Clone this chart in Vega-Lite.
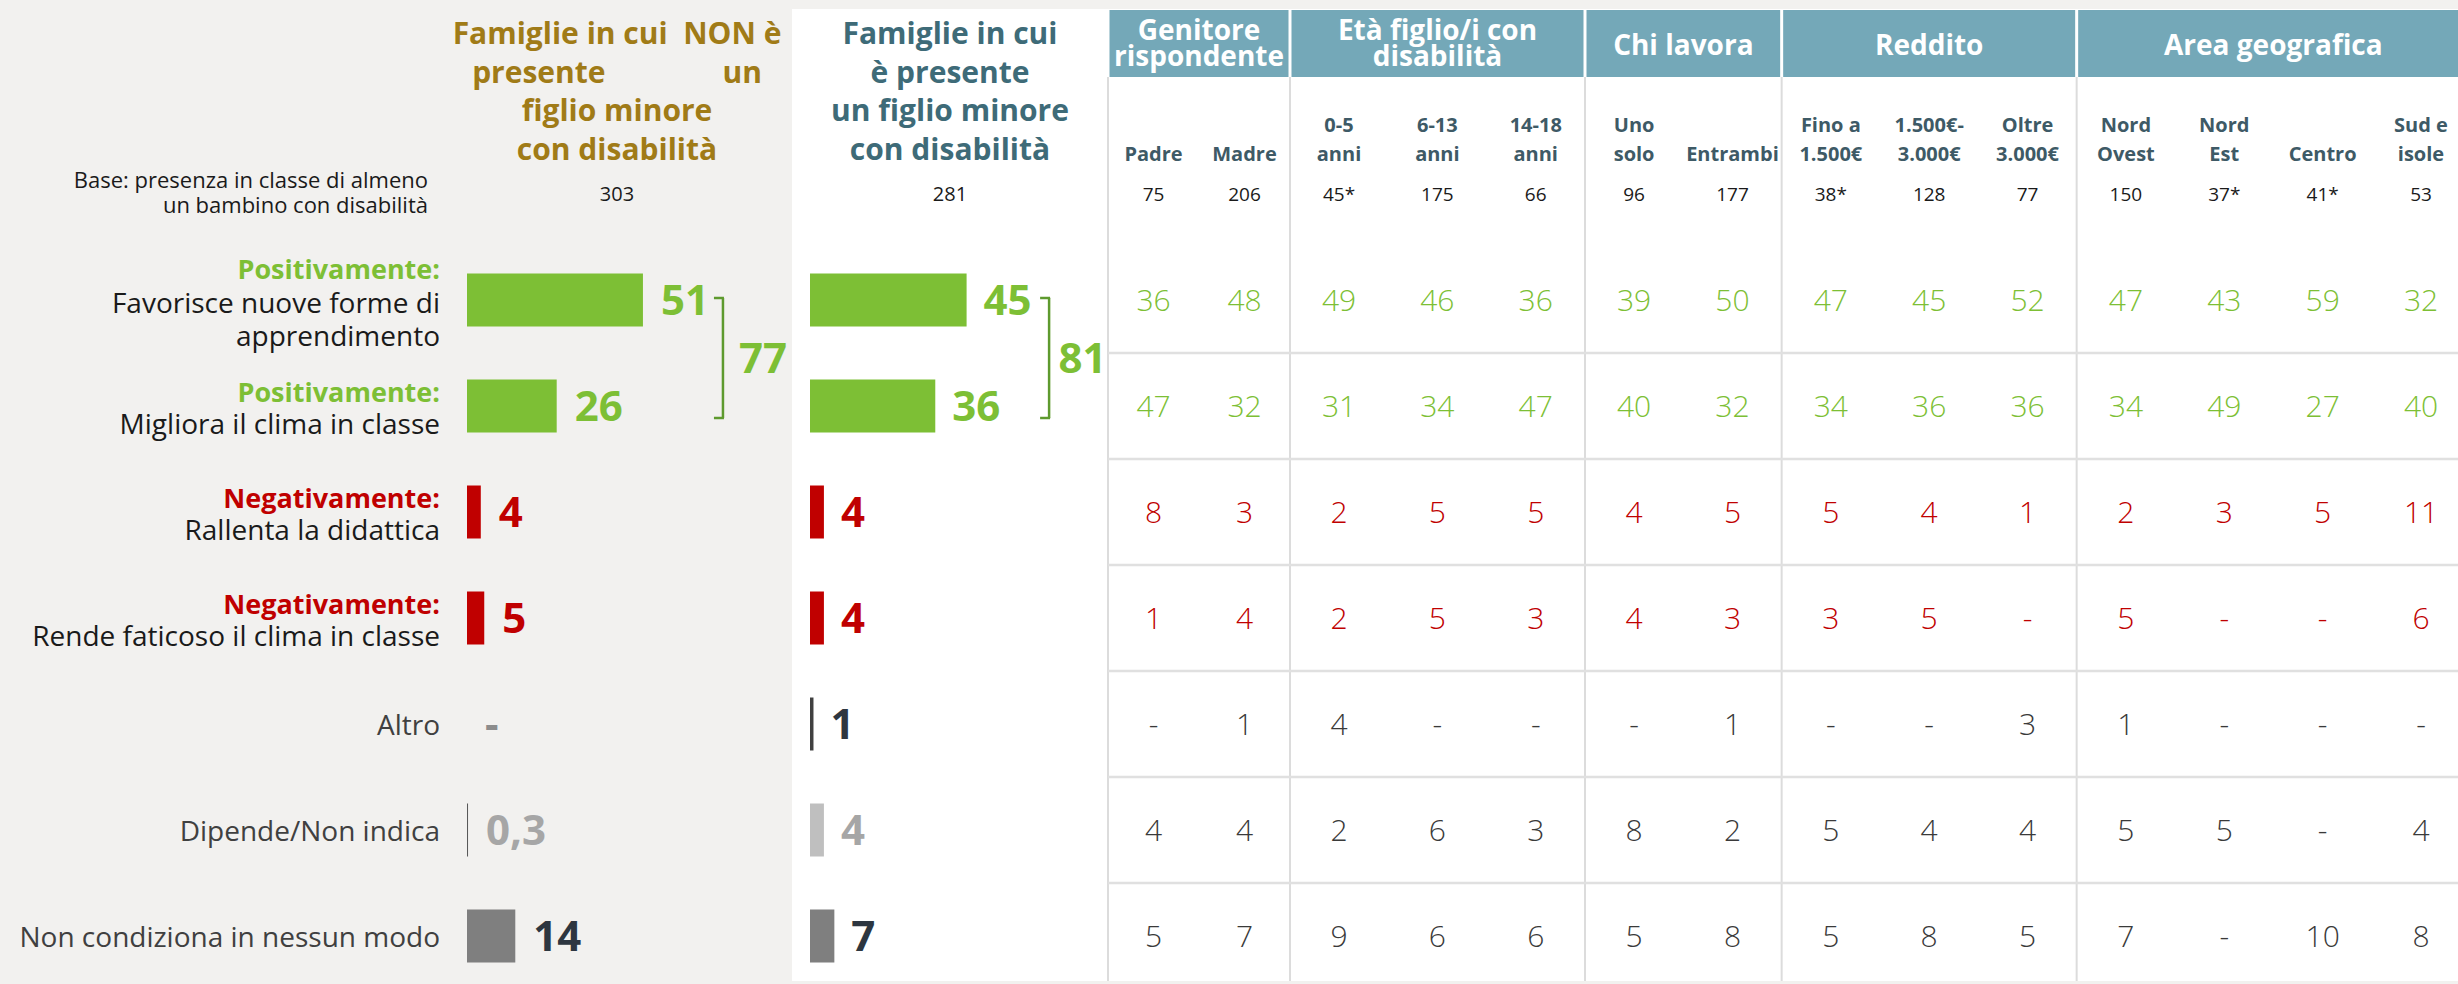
{
  "$schema": "https://vega.github.io/schema/vega-lite/v6.json",
  "width": 2458,
  "height": 984,
  "autosize": "none",
  "padding": 0,
  "background": "#f2f1ef",
  "config": {"view": {"stroke": null}, "text": {"font": "Open Sans"}},
  "datasets": {
    "rows": [
      {"r": "Favorisce", "pre": "Positivamente:", "txt": "Favorisce nuove forme di\napprendimento"},
      {"r": "Migliora", "pre": "Positivamente:", "txt": "Migliora il clima in classe"},
      {"r": "Rallenta", "pre": "Negativamente:", "txt": "Rallenta la didattica"},
      {"r": "Rende", "pre": "Negativamente:", "txt": "Rende faticoso il clima in classe"},
      {"r": "Altro", "pre": "", "txt": "Altro"},
      {"r": "Dipende", "pre": "", "txt": "Dipende/Non indica"},
      {"r": "Non condiziona", "pre": "", "txt": "Non condiziona in nessun modo"}
    ],
    "bars": [
      {"r": "Favorisce", "g": "NON", "v": 51, "t": "51"},
      {"r": "Migliora", "g": "NON", "v": 26, "t": "26"},
      {"r": "Rallenta", "g": "NON", "v": 4, "t": "4"},
      {"r": "Rende", "g": "NON", "v": 5, "t": "5"},
      {"r": "Altro", "g": "NON", "v": 0, "t": "-"},
      {"r": "Dipende", "g": "NON", "v": 0.3, "t": "0,3"},
      {"r": "Non condiziona", "g": "NON", "v": 14, "t": "14"},
      {"r": "Favorisce", "g": "CON", "v": 45, "t": "45"},
      {"r": "Migliora", "g": "CON", "v": 36, "t": "36"},
      {"r": "Rallenta", "g": "CON", "v": 4, "t": "4"},
      {"r": "Rende", "g": "CON", "v": 4, "t": "4"},
      {"r": "Altro", "g": "CON", "v": 1, "t": "1"},
      {"r": "Dipende", "g": "CON", "v": 4, "t": "4"},
      {"r": "Non condiziona", "g": "CON", "v": 7, "t": "7"}
    ],
    "brk": [
      {"g": "NON", "top": "Favorisce", "bot": "Migliora", "ref": 51, "tot": "77"},
      {"g": "CON", "top": "Favorisce", "bot": "Migliora", "ref": 45, "tot": "81"}
    ],
    "titles": [
      {"p": "NON", "t": "Famiglie in cui\u00a0\u00a0NON è\npresente\u00a0\u00a0\u00a0\u00a0\u00a0\u00a0\u00a0\u00a0\u00a0\u00a0\u00a0\u00a0\u00a0\u00a0\u00a0un\nfiglio minore\ncon disabilità", "n": "303"},
      {"p": "CON", "t": "Famiglie in cui\nè presente\nun figlio minore\ncon disabilità", "n": "281"}
    ],
    "groups": [
      {"grp": "Genitore\nrispondente", "lo": 0, "hi": 2},
      {"grp": "Età figlio/i con\ndisabilità", "lo": 2, "hi": 5},
      {"grp": "Chi lavora", "lo": 5, "hi": 7},
      {"grp": "Reddito", "lo": 7, "hi": 10},
      {"grp": "Area geografica", "lo": 10, "hi": 14}
    ],
    "cols": [
      {"k": "padre", "ci": 0, "lab": "Padre", "n": "75"},
      {"k": "madre", "ci": 1, "lab": "Madre", "n": "206"},
      {"k": "a05", "ci": 2, "lab": "0-5\nanni", "n": "45*"},
      {"k": "a613", "ci": 3, "lab": "6-13\nanni", "n": "175"},
      {"k": "a1418", "ci": 4, "lab": "14-18\nanni", "n": "66"},
      {"k": "uno", "ci": 5, "lab": "Uno\nsolo", "n": "96"},
      {"k": "entr", "ci": 6, "lab": "Entrambi", "n": "177"},
      {"k": "r1", "ci": 7, "lab": "Fino a\n1.500€", "n": "38*"},
      {"k": "r2", "ci": 8, "lab": "1.500€-\n3.000€", "n": "128"},
      {"k": "r3", "ci": 9, "lab": "Oltre\n3.000€", "n": "77"},
      {"k": "no", "ci": 10, "lab": "Nord\nOvest", "n": "150"},
      {"k": "ne", "ci": 11, "lab": "Nord\nEst", "n": "37*"},
      {"k": "ce", "ci": 12, "lab": "Centro", "n": "41*"},
      {"k": "sud", "ci": 13, "lab": "Sud e\nisole", "n": "53"}
    ],
    "tab": [
      {"r": "Favorisce", "padre": "36", "madre": "48", "a05": "49", "a613": "46", "a1418": "36", "uno": "39", "entr": "50", "r1": "47", "r2": "45", "r3": "52", "no": "47", "ne": "43", "ce": "59", "sud": "32"},
      {"r": "Migliora", "padre": "47", "madre": "32", "a05": "31", "a613": "34", "a1418": "47", "uno": "40", "entr": "32", "r1": "34", "r2": "36", "r3": "36", "no": "34", "ne": "49", "ce": "27", "sud": "40"},
      {"r": "Rallenta", "padre": "8", "madre": "3", "a05": "2", "a613": "5", "a1418": "5", "uno": "4", "entr": "5", "r1": "5", "r2": "4", "r3": "1", "no": "2", "ne": "3", "ce": "5", "sud": "11"},
      {"r": "Rende", "padre": "1", "madre": "4", "a05": "2", "a613": "5", "a1418": "3", "uno": "4", "entr": "3", "r1": "3", "r2": "5", "r3": "-", "no": "5", "ne": "-", "ce": "-", "sud": "6"},
      {"r": "Altro", "padre": "-", "madre": "1", "a05": "4", "a613": "-", "a1418": "-", "uno": "-", "entr": "1", "r1": "-", "r2": "-", "r3": "3", "no": "1", "ne": "-", "ce": "-", "sud": "-"},
      {"r": "Dipende", "padre": "4", "madre": "4", "a05": "2", "a613": "6", "a1418": "3", "uno": "8", "entr": "2", "r1": "5", "r2": "4", "r3": "4", "no": "5", "ne": "5", "ce": "-", "sud": "4"},
      {"r": "Non condiziona", "padre": "5", "madre": "7", "a05": "9", "a613": "6", "a1418": "6", "uno": "5", "entr": "8", "r1": "5", "r2": "8", "r3": "5", "no": "7", "ne": "-", "ce": "10", "sud": "8"}
    ]
  },
  "resolve": {"scale": {"x": "independent", "y": "independent", "color": "independent"}},
  "layer": [
    {
      "data": {"values": [{}]},
      "mark": {"type": "rect", "fill": "#ffffff"},
      "encoding": {
        "x": {"datum": 0, "type": "quantitative", "scale": {"domain": [0, 1], "range": [792, 2458], "nice": false, "zero": false}, "axis": null},
        "x2": {"datum": 1},
        "y": {"datum": 0, "type": "quantitative", "scale": {"domain": [0, 1, 2], "range": [9, 77, 981], "nice": false, "zero": false}, "axis": null},
        "y2": {"datum": 2}
      }
    },
    {
      "data": {"name": "groups"},
      "mark": {"type": "rect", "fill": "#74a8b8", "xOffset": 1.5, "x2Offset": -1.5},
      "encoding": {
        "x": {"field": "lo", "type": "quantitative", "scale": {"domain": [0, 2, 14], "range": [1108, 1290, 2470], "nice": false, "zero": false}, "axis": null},
        "x2": {"field": "hi"},
        "y": {"datum": 0, "type": "quantitative", "scale": {"domain": [0, 1, 2], "range": [10, 77, 981], "nice": false, "zero": false}, "axis": null},
        "y2": {"datum": 1}
      }
    },
    {
      "data": {"name": "groups"},
      "mark": {"type": "rule", "stroke": "#dcdcdc", "strokeWidth": 2},
      "encoding": {
        "x": {"field": "lo", "type": "quantitative", "scale": {"domain": [0, 2, 14], "range": [1108, 1290, 2470], "nice": false, "zero": false}, "axis": null},
        "y": {"datum": 1, "type": "quantitative", "scale": {"domain": [0, 1, 2], "range": [10, 77, 981], "nice": false, "zero": false}, "axis": null},
        "y2": {"datum": 2}
      }
    },
    {
      "data": {"name": "rows"},
      "mark": {"type": "rule", "stroke": "#e0e0e0", "strokeWidth": 2.5},
      "encoding": {
        "y": {"field": "r", "type": "nominal", "scale": {"type": "point", "domain": ["Favorisce", "Migliora", "Rallenta", "Rende", "Altro", "Dipende", "Non condiziona"], "range": [353, 989], "padding": 0}, "axis": null},
        "x": {"datum": 0, "type": "quantitative", "scale": {"domain": [0, 2, 14], "range": [1108, 1290, 2470], "nice": false, "zero": false}, "axis": null},
        "x2": {"datum": 14}
      }
    },
    {
      "data": {"name": "groups"},
      "transform": [
        {"fold": ["lo", "hi"], "as": ["side", "e"]},
        {"aggregate": [{"op": "mean", "field": "e", "as": "m"}], "groupby": ["grp"]},
        {"filter": "indexof(datum.grp, '\\n') >= 0"}
      ],
      "mark": {"type": "text", "color": "#ffffff", "fontWeight": "bold", "fontSize": 28, "lineBreak": "\n", "lineHeight": 26, "baseline": "middle", "align": "center"},
      "encoding": {
        "x": {"field": "m", "type": "quantitative", "scale": {"domain": [0, 2, 14], "range": [1108, 1290, 2470], "nice": false, "zero": false}, "axis": null},
        "y": {"datum": 0, "type": "quantitative", "scale": {"domain": [0, 1, 2, 3, 4, 5, 6], "range": [32, 35, 47, 132, 161, 181, 195], "nice": false, "zero": false}, "axis": null},
        "text": {"field": "grp"}
      }
    },
    {
      "data": {"name": "groups"},
      "transform": [
        {"fold": ["lo", "hi"], "as": ["side", "e"]},
        {"aggregate": [{"op": "mean", "field": "e", "as": "m"}], "groupby": ["grp"]},
        {"filter": "indexof(datum.grp, '\\n') < 0"}
      ],
      "mark": {"type": "text", "color": "#ffffff", "fontWeight": "bold", "fontSize": 28, "baseline": "middle", "align": "center"},
      "encoding": {
        "x": {"field": "m", "type": "quantitative", "scale": {"domain": [0, 2, 14], "range": [1108, 1290, 2470], "nice": false, "zero": false}, "axis": null},
        "y": {"datum": 2, "type": "quantitative", "scale": {"domain": [0, 1, 2, 3, 4, 5, 6], "range": [32, 35, 47, 132, 161, 181, 195], "nice": false, "zero": false}, "axis": null},
        "text": {"field": "grp"}
      }
    },
    {
      "data": {"name": "cols"},
      "transform": [{"filter": "indexof(datum.lab, '\\n') >= 0"}],
      "mark": {"type": "text", "color": "#3e5a66", "fontWeight": "bold", "fontSize": 20, "lineBreak": "\n", "lineHeight": 29, "baseline": "alphabetic", "align": "center"},
      "encoding": {
        "x": {"field": "ci", "type": "quantitative", "scale": {"domain": [0, 1, 2, 13], "range": [1153.5, 1244.5, 1339, 2421], "nice": false, "zero": false}, "axis": null},
        "y": {"datum": 3, "type": "quantitative", "scale": {"domain": [0, 1, 2, 3, 4, 5, 6], "range": [32, 35, 47, 132, 161, 181, 195], "nice": false, "zero": false}, "axis": null},
        "text": {"field": "lab"}
      }
    },
    {
      "data": {"name": "cols"},
      "transform": [{"filter": "indexof(datum.lab, '\\n') < 0"}],
      "mark": {"type": "text", "color": "#3e5a66", "fontWeight": "bold", "fontSize": 20, "baseline": "alphabetic", "align": "center"},
      "encoding": {
        "x": {"field": "ci", "type": "quantitative", "scale": {"domain": [0, 1, 2, 13], "range": [1153.5, 1244.5, 1339, 2421], "nice": false, "zero": false}, "axis": null},
        "y": {"datum": 4, "type": "quantitative", "scale": {"domain": [0, 1, 2, 3, 4, 5, 6], "range": [32, 35, 47, 132, 161, 181, 195], "nice": false, "zero": false}, "axis": null},
        "text": {"field": "lab"}
      }
    },
    {
      "data": {"name": "cols"},
      "mark": {"type": "text", "color": "#1a1a1a", "fontSize": 19, "baseline": "middle", "align": "center"},
      "encoding": {
        "x": {"field": "ci", "type": "quantitative", "scale": {"domain": [0, 1, 2, 13], "range": [1153.5, 1244.5, 1339, 2421], "nice": false, "zero": false}, "axis": null},
        "y": {"datum": 6, "type": "quantitative", "scale": {"domain": [0, 1, 2, 3, 4, 5, 6], "range": [32, 35, 47, 132, 161, 181, 195], "nice": false, "zero": false}, "axis": null},
        "text": {"field": "n"}
      }
    },
    {
      "data": {"name": "tab"},
      "transform": [
        {"fold": ["padre", "madre", "a05", "a613", "a1418", "uno", "entr", "r1", "r2", "r3", "no", "ne", "ce", "sud"], "as": ["k", "v"]},
        {"lookup": "k", "from": {"data": {"name": "cols"}, "key": "k", "fields": ["ci"]}}
      ],
      "mark": {"type": "text", "fontSize": 30, "fontWeight": 300, "baseline": "middle", "align": "center", "dy": 2},
      "encoding": {
        "x": {"field": "ci", "type": "quantitative", "scale": {"domain": [0, 1, 2, 13], "range": [1153.5, 1244.5, 1339, 2421], "nice": false, "zero": false}, "axis": null},
        "y": {"field": "r", "type": "nominal", "scale": {"type": "band", "domain": ["Favorisce", "Migliora", "Rallenta", "Rende", "Altro", "Dipende", "Non condiziona"], "range": [247, 989], "paddingInner": 0.5, "paddingOuter": 0.25}, "axis": null},
        "color": {"field": "r", "type": "nominal", "scale": {"domain": ["Favorisce", "Migliora", "Rallenta", "Rende", "Altro", "Dipende", "Non condiziona"], "range": ["#7dbf35", "#7dbf35", "#c00000", "#c00000", "#3a3a3a", "#3a3a3a", "#3a3a3a"]}, "legend": null},
        "text": {"field": "v"}
      }
    },
    {
      "data": {"name": "titles"},
      "mark": {"type": "text", "fontWeight": "bold", "fontSize": 30, "lineBreak": "\n", "lineHeight": 38.5, "baseline": "middle", "align": "center"},
      "encoding": {
        "x": {"field": "p", "type": "nominal", "scale": {"type": "point", "domain": ["NON", "CON"], "range": [617, 950], "padding": 0}, "axis": null},
        "y": {"datum": 1, "type": "quantitative", "scale": {"domain": [0, 1, 2, 3, 4, 5, 6], "range": [32, 35, 47, 132, 161, 181, 195], "nice": false, "zero": false}, "axis": null},
        "color": {"field": "p", "type": "nominal", "scale": {"domain": ["NON", "CON"], "range": ["#a07b17", "#3e6b78"]}, "legend": null},
        "text": {"field": "t"}
      }
    },
    {
      "data": {"name": "titles"},
      "mark": {"type": "text", "color": "#1a1a1a", "fontSize": 20, "baseline": "middle", "align": "center"},
      "encoding": {
        "x": {"field": "p", "type": "nominal", "scale": {"type": "point", "domain": ["NON", "CON"], "range": [617, 950], "padding": 0}, "axis": null},
        "y": {"datum": 6, "type": "quantitative", "scale": {"domain": [0, 1, 2, 3, 4, 5, 6], "range": [32, 35, 47, 132, 161, 181, 195], "nice": false, "zero": false}, "axis": null},
        "text": {"field": "n"}
      }
    },
    {
      "data": {"values": [{"t": "Base: presenza in classe di almeno\nun bambino con disabilità"}]},
      "mark": {"type": "text", "color": "#1a1a1a", "fontSize": 22, "lineBreak": "\n", "lineHeight": 25, "baseline": "middle", "align": "right", "dx": -39},
      "encoding": {
        "x": {"datum": 0, "type": "quantitative", "scale": {"domain": [0, 100], "range": [467, 812], "nice": false}, "axis": null},
        "y": {"datum": 5, "type": "quantitative", "scale": {"domain": [0, 1, 2, 3, 4, 5, 6], "range": [32, 35, 47, 132, 161, 181, 195], "nice": false, "zero": false}, "axis": null},
        "text": {"field": "t"}
      }
    },
    {
      "data": {"name": "rows"},
      "transform": [{"filter": "datum.r == 'Favorisce'"}],
      "mark": {"type": "text", "fontWeight": "bold", "fontSize": 27, "baseline": "middle", "align": "right", "dx": -27, "dy": -29},
      "encoding": {
        "x": {"datum": 0, "type": "quantitative", "scale": {"domain": [0, 100], "range": [467, 812], "nice": false}, "axis": null},
        "y": {"field": "r", "type": "nominal", "scale": {"type": "band", "domain": ["Favorisce", "Migliora", "Rallenta", "Rende", "Altro", "Dipende", "Non condiziona"], "range": [247, 989], "paddingInner": 0.5, "paddingOuter": 0.25}, "axis": null},
        "color": {"field": "r", "type": "nominal", "scale": {"domain": ["Favorisce", "Migliora", "Rallenta", "Rende"], "range": ["#7dbf35", "#7dbf35", "#c00000", "#c00000"]}, "legend": null},
        "text": {"field": "pre"}
      }
    },
    {
      "data": {"name": "rows"},
      "transform": [{"filter": "datum.r == 'Migliora' || datum.r == 'Rallenta' || datum.r == 'Rende'"}],
      "mark": {"type": "text", "fontWeight": "bold", "fontSize": 27, "baseline": "middle", "align": "right", "dx": -27, "dy": -12},
      "encoding": {
        "x": {"datum": 0, "type": "quantitative", "scale": {"domain": [0, 100], "range": [467, 812], "nice": false}, "axis": null},
        "y": {"field": "r", "type": "nominal", "scale": {"type": "band", "domain": ["Favorisce", "Migliora", "Rallenta", "Rende", "Altro", "Dipende", "Non condiziona"], "range": [247, 989], "paddingInner": 0.5, "paddingOuter": 0.25}, "axis": null},
        "color": {"field": "r", "type": "nominal", "scale": {"domain": ["Favorisce", "Migliora", "Rallenta", "Rende"], "range": ["#7dbf35", "#7dbf35", "#c00000", "#c00000"]}, "legend": null},
        "text": {"field": "pre"}
      }
    },
    {
      "data": {"name": "rows"},
      "transform": [{"filter": "datum.r == 'Favorisce'"}],
      "mark": {"type": "text", "color": "#1a1a1a", "fontSize": 28, "lineBreak": "\n", "lineHeight": 33, "baseline": "middle", "align": "right", "dx": -27, "dy": 5},
      "encoding": {
        "x": {"datum": 0, "type": "quantitative", "scale": {"domain": [0, 100], "range": [467, 812], "nice": false}, "axis": null},
        "y": {"field": "r", "type": "nominal", "scale": {"type": "band", "domain": ["Favorisce", "Migliora", "Rallenta", "Rende", "Altro", "Dipende", "Non condiziona"], "range": [247, 989], "paddingInner": 0.5, "paddingOuter": 0.25}, "axis": null},
        "text": {"field": "txt"}
      }
    },
    {
      "data": {"name": "rows"},
      "transform": [{"filter": "datum.r == 'Migliora' || datum.r == 'Rallenta' || datum.r == 'Rende'"}],
      "mark": {"type": "text", "color": "#1a1a1a", "fontSize": 28, "baseline": "middle", "align": "right", "dx": -27, "dy": 20},
      "encoding": {
        "x": {"datum": 0, "type": "quantitative", "scale": {"domain": [0, 100], "range": [467, 812], "nice": false}, "axis": null},
        "y": {"field": "r", "type": "nominal", "scale": {"type": "band", "domain": ["Favorisce", "Migliora", "Rallenta", "Rende", "Altro", "Dipende", "Non condiziona"], "range": [247, 989], "paddingInner": 0.5, "paddingOuter": 0.25}, "axis": null},
        "text": {"field": "txt"}
      }
    },
    {
      "data": {"name": "rows"},
      "transform": [{"filter": "datum.r == 'Altro' || datum.r == 'Dipende' || datum.r == 'Non condiziona'"}],
      "mark": {"type": "text", "color": "#404040", "fontSize": 28, "baseline": "middle", "align": "right", "dx": -27, "dy": 3},
      "encoding": {
        "x": {"datum": 0, "type": "quantitative", "scale": {"domain": [0, 100], "range": [467, 812], "nice": false}, "axis": null},
        "y": {"field": "r", "type": "nominal", "scale": {"type": "band", "domain": ["Favorisce", "Migliora", "Rallenta", "Rende", "Altro", "Dipende", "Non condiziona"], "range": [247, 989], "paddingInner": 0.5, "paddingOuter": 0.25}, "axis": null},
        "text": {"field": "txt"}
      }
    },
    {
      "data": {"name": "bars"},
      "transform": [{"filter": "datum.g == 'NON'"}],
      "mark": {"type": "bar"},
      "encoding": {
        "x": {"field": "v", "type": "quantitative", "scale": {"domain": [0, 100], "range": [467, 812], "nice": false}, "axis": null},
        "y": {"field": "r", "type": "nominal", "scale": {"type": "band", "domain": ["Favorisce", "Migliora", "Rallenta", "Rende", "Altro", "Dipende", "Non condiziona"], "range": [247, 989], "paddingInner": 0.5, "paddingOuter": 0.25}, "axis": null},
        "color": {"field": "r", "type": "nominal", "scale": {"domain": ["Favorisce", "Migliora", "Rallenta", "Rende", "Altro", "Dipende", "Non condiziona"], "range": ["#7dbf35", "#7dbf35", "#c00000", "#c00000", "#404040", "#595959", "#7f7f7f"]}, "legend": null}
      }
    },
    {
      "data": {"name": "bars"},
      "transform": [{"filter": "datum.g == 'CON'"}],
      "mark": {"type": "bar"},
      "encoding": {
        "x": {"field": "v", "type": "quantitative", "scale": {"domain": [0, 100], "range": [810, 1158], "nice": false}, "axis": null},
        "y": {"field": "r", "type": "nominal", "scale": {"type": "band", "domain": ["Favorisce", "Migliora", "Rallenta", "Rende", "Altro", "Dipende", "Non condiziona"], "range": [247, 989], "paddingInner": 0.5, "paddingOuter": 0.25}, "axis": null},
        "color": {"field": "r", "type": "nominal", "scale": {"domain": ["Favorisce", "Migliora", "Rallenta", "Rende", "Altro", "Dipende", "Non condiziona"], "range": ["#7dbf35", "#7dbf35", "#c00000", "#c00000", "#404040", "#bfbfbf", "#7f7f7f"]}, "legend": null}
      }
    },
    {
      "data": {"name": "bars"},
      "transform": [{"filter": "datum.g == 'NON'"}],
      "mark": {"type": "text", "fontWeight": "bold", "fontSize": 42, "baseline": "middle", "align": "left", "dx": 18, "dy": 2},
      "encoding": {
        "x": {"field": "v", "type": "quantitative", "scale": {"domain": [0, 100], "range": [467, 812], "nice": false}, "axis": null},
        "y": {"field": "r", "type": "nominal", "scale": {"type": "band", "domain": ["Favorisce", "Migliora", "Rallenta", "Rende", "Altro", "Dipende", "Non condiziona"], "range": [247, 989], "paddingInner": 0.5, "paddingOuter": 0.25}, "axis": null},
        "color": {"field": "r", "type": "nominal", "scale": {"domain": ["Favorisce", "Migliora", "Rallenta", "Rende", "Altro", "Dipende", "Non condiziona"], "range": ["#7dbf35", "#7dbf35", "#c00000", "#c00000", "#8c8c8c", "#a6a6a6", "#2d3640"]}, "legend": null},
        "text": {"field": "t"}
      }
    },
    {
      "data": {"name": "bars"},
      "transform": [{"filter": "datum.g == 'CON'"}],
      "mark": {"type": "text", "fontWeight": "bold", "fontSize": 42, "baseline": "middle", "align": "left", "dx": 17, "dy": 2},
      "encoding": {
        "x": {"field": "v", "type": "quantitative", "scale": {"domain": [0, 100], "range": [810, 1158], "nice": false}, "axis": null},
        "y": {"field": "r", "type": "nominal", "scale": {"type": "band", "domain": ["Favorisce", "Migliora", "Rallenta", "Rende", "Altro", "Dipende", "Non condiziona"], "range": [247, 989], "paddingInner": 0.5, "paddingOuter": 0.25}, "axis": null},
        "color": {"field": "r", "type": "nominal", "scale": {"domain": ["Favorisce", "Migliora", "Rallenta", "Rende", "Altro", "Dipende", "Non condiziona"], "range": ["#7dbf35", "#7dbf35", "#c00000", "#c00000", "#2d3640", "#a6a6a6", "#2d3640"]}, "legend": null},
        "text": {"field": "t"}
      }
    },
    {
      "data": {"name": "brk"},
      "transform": [{"filter": "datum.g == 'NON'"}],
      "mark": {"type": "rule", "stroke": "#5e9a2e", "strokeWidth": 2.5, "xOffset": 80},
      "encoding": {
        "x": {"field": "ref", "type": "quantitative", "scale": {"domain": [0, 100], "range": [467, 812], "nice": false}, "axis": null},
        "y": {"field": "top", "type": "nominal", "scale": {"type": "point", "domain": ["Favorisce", "Migliora"], "range": [298, 418], "padding": 0}, "axis": null},
        "y2": {"field": "bot"}
      }
    },
    {
      "data": {"name": "brk"},
      "transform": [{"filter": "datum.g == 'NON'"}, {"fold": ["top", "bot"], "as": ["w", "row"]}],
      "mark": {"type": "rule", "stroke": "#5e9a2e", "strokeWidth": 2.5, "xOffset": 71, "x2Offset": 81},
      "encoding": {
        "x": {"field": "ref", "type": "quantitative", "scale": {"domain": [0, 100], "range": [467, 812], "nice": false}, "axis": null},
        "x2": {"field": "ref"},
        "y": {"field": "row", "type": "nominal", "scale": {"type": "point", "domain": ["Favorisce", "Migliora"], "range": [298, 418], "padding": 0}, "axis": null}
      }
    },
    {
      "data": {"name": "brk"},
      "transform": [{"filter": "datum.g == 'NON'"}],
      "mark": {"type": "text", "fontWeight": "bold", "fontSize": 42, "color": "#7dbf35", "baseline": "middle", "align": "center", "dx": 120, "dy": 62},
      "encoding": {
        "x": {"field": "ref", "type": "quantitative", "scale": {"domain": [0, 100], "range": [467, 812], "nice": false}, "axis": null},
        "y": {"field": "top", "type": "nominal", "scale": {"type": "point", "domain": ["Favorisce", "Migliora"], "range": [298, 418], "padding": 0}, "axis": null},
        "text": {"field": "tot"}
      }
    },
    {
      "data": {"name": "brk"},
      "transform": [{"filter": "datum.g == 'CON'"}],
      "mark": {"type": "rule", "stroke": "#5e9a2e", "strokeWidth": 2.5, "xOffset": 82.5},
      "encoding": {
        "x": {"field": "ref", "type": "quantitative", "scale": {"domain": [0, 100], "range": [810, 1158], "nice": false}, "axis": null},
        "y": {"field": "top", "type": "nominal", "scale": {"type": "point", "domain": ["Favorisce", "Migliora"], "range": [298, 418], "padding": 0}, "axis": null},
        "y2": {"field": "bot"}
      }
    },
    {
      "data": {"name": "brk"},
      "transform": [{"filter": "datum.g == 'CON'"}, {"fold": ["top", "bot"], "as": ["w", "row"]}],
      "mark": {"type": "rule", "stroke": "#5e9a2e", "strokeWidth": 2.5, "xOffset": 73.5, "x2Offset": 83.5},
      "encoding": {
        "x": {"field": "ref", "type": "quantitative", "scale": {"domain": [0, 100], "range": [810, 1158], "nice": false}, "axis": null},
        "x2": {"field": "ref"},
        "y": {"field": "row", "type": "nominal", "scale": {"type": "point", "domain": ["Favorisce", "Migliora"], "range": [298, 418], "padding": 0}, "axis": null}
      }
    },
    {
      "data": {"name": "brk"},
      "transform": [{"filter": "datum.g == 'CON'"}],
      "mark": {"type": "text", "fontWeight": "bold", "fontSize": 42, "color": "#7dbf35", "baseline": "middle", "align": "center", "dx": 116, "dy": 62},
      "encoding": {
        "x": {"field": "ref", "type": "quantitative", "scale": {"domain": [0, 100], "range": [810, 1158], "nice": false}, "axis": null},
        "y": {"field": "top", "type": "nominal", "scale": {"type": "point", "domain": ["Favorisce", "Migliora"], "range": [298, 418], "padding": 0}, "axis": null},
        "text": {"field": "tot"}
      }
    }
  ]
}
